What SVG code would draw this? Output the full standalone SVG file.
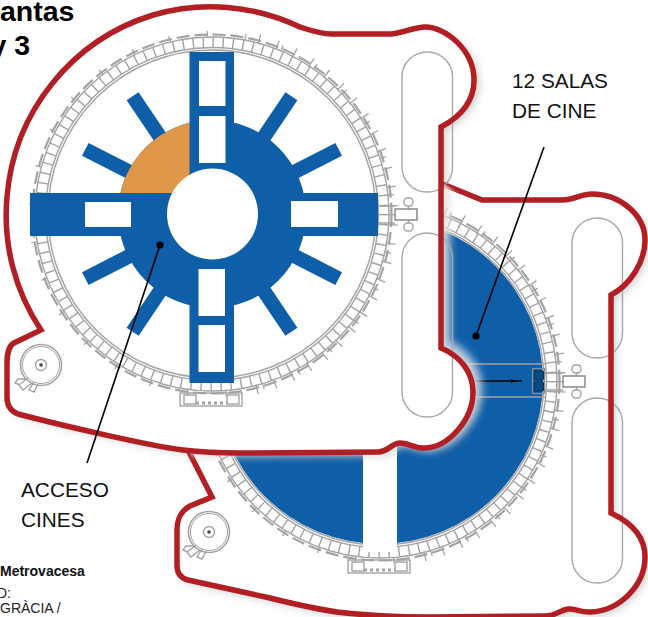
<svg xmlns="http://www.w3.org/2000/svg" width="648" height="617" viewBox="0 0 648 617">
<style>
.red{fill:none;stroke:#b11f24;stroke-width:5.5;stroke-linejoin:miter}
.g{fill:none;stroke:#a3a3a3}
.pill{fill:none;stroke:#a8a8a8;stroke-width:1.4}
.blue{fill:#0e5ea8}
.w{fill:#fff}
.lead{fill:none;stroke:#000;stroke-width:1.6}
.lab{font-family:"Liberation Sans",Arial,sans-serif;font-size:20.8px;fill:#111}
.hd{font-family:"Liberation Sans",Arial,sans-serif;font-size:28.5px;font-weight:700;fill:#000}
.sm{font-family:"Liberation Sans",Arial,sans-serif;font-size:14px;fill:#222}
</style>
<defs>
<path id="b1p" d="M41,330 A206,206 0 0 1 7,197 A208,208 0 0 1 153,15 A207,207 0 0 1 300,27 C312,31 322,34 332,34 L390,34 C402,34 410,28 424,27 C445,26 474,50 474,80 C474,103 458,118 441,127 L441,348 C460,356 473,372 473,392 C473,420 448,448 424,448 C414,448 408,443 400,443 C392,443 388,452 378,452 L240,453 C220,453 200,452 183,450 C150,446 60,425 18,414 C10,411 7,405 7,397 L7,363 C7,352 10,345 14,343 Z"/>
<path id="b2p" d="M445,185 L482,200 L562,200 C575,200 580,194 592,194 C620,194 645,215 645,240 C645,262 630,285 611,295 L611,513 C630,522 645,535 645,557 C645,585 620,611 590,612 C578,612 575,608 568,609 C560,610 556,616 545,616 L430,617 C400,617 370,616 337,612 C310,608 290,603 270,598 L188,580 C180,578 177,572 177,565 L177,530 C177,518 181,511 190,506 L212,497 L188,450 Z"/>
<clipPath id="b2clip"><use href="#b2p"/></clipPath>
<clipPath id="orangeclip"><rect x="100" y="100" width="90" height="93"/></clipPath>
<filter id="soft" x="-20%" y="-20%" width="140%" height="140%"><feGaussianBlur stdDeviation="4"/></filter>
<g id="ringset" stroke-width="1.4">
<circle class="g" r="164"/>
<circle class="g" r="166.5"/>
<circle class="g" r="177"/>
<circle class="g" r="179.5" stroke-width="2.2" stroke-dasharray="13 5"/>
<circle class="g" r="171.5" stroke-width="11" stroke-dasharray="1.4 8.58"/>
<circle class="g" r="180" stroke-width="6" stroke-dasharray="1.3 37"/>
<path class="g" d="M46.8,-174.8 A181,181 0 0 1 31.4,178.3" stroke-width="10" stroke-dasharray="1.3 17.7"/>
<rect class="g" x="-32" y="179" width="62" height="13"/>
<rect class="g" x="-28" y="181" width="12" height="9"/>
<rect class="g" x="15" y="181" width="12" height="9"/>
<path class="g" d="M-16,189 H15" stroke-dasharray="3 3" stroke-width="3"/>
<path class="g" d="M165,-8 H183 M165,9 H183"/>
<rect class="g" x="192" y="-16" width="9" height="8" rx="3.5"/>
<rect class="g" x="192" y="9" width="9" height="8" rx="3.5"/>
<path class="g" d="M196.5,-8 V-5 M196.5,6 V9"/>
<rect x="183" y="-5" width="22" height="11" fill="#fff" stroke="#777" stroke-width="1.3"/>
<circle class="g" cx="-171" cy="151" r="20.5" stroke-width="1.6"/>
<circle class="g" cx="-171" cy="151" r="18.5" stroke-width="1"/>
<circle class="g" cx="-171" cy="151" r="5.5"/>
<circle cx="-171" cy="151" r="1.8" fill="#444"/>
<path class="g" d="M-184,164 L-193,171 L-189,176 L-180,169 M-186,165 L-194,165 L-197,169 L-192,171 M-178,168 L-183,176 L-178,178 L-174,170"/>
</g>
</defs>

<g id="building-2">
<use href="#b2p" transform="translate(4,4)" fill="#777" opacity=".35" filter="url(#soft)"/>
<use href="#b2p" fill="#fff"/>
<circle class="blue" cx="380" cy="381" r="163"/>
<use href="#ringset" transform="translate(380,381)"/>
<rect class="w" x="363" y="440" width="34" height="112"/>
<path class="g" d="M465,364 H545 M465,397 H545" stroke-width="1.3"/>
<rect x="532.500" y="368.500" width="12" height="25" fill="none" stroke="#8c8c8c" stroke-width="1.3"/>
<rect x="534.500" y="371" width="9" height="9" rx="1" fill="#0a4a86" stroke="#0a2f55"/>
<rect x="534.500" y="382" width="9" height="9" rx="1" fill="#0a4a86" stroke="#0a2f55"/>
<path class="lead" d="M470,381 H522"/>
<path d="M511,379 L515,381 L511,383 Z" fill="#000"/>
<rect class="pill" x="572" y="218" width="50.500" height="140" rx="25"/>
<rect class="pill" x="572" y="398" width="50.500" height="185" rx="25"/>
<use href="#b2p" class="red"/>
</g>

<g id="shadow">
<use href="#b1p" transform="translate(5,3)" fill="#8a8178" opacity=".4" filter="url(#soft)"/>
<g clip-path="url(#b2clip)"><use href="#b1p" transform="translate(3,-3)" fill="#f1efed" stroke="#f1efed" stroke-width="12" opacity=".8" filter="url(#soft)"/></g>
</g>

<g id="building-1">
<use href="#b1p" fill="#fff"/>
<use href="#ringset" transform="translate(212,214)"/>
<g id="plan-blue">
<g stroke="#0e5ea8" stroke-width="14.500" fill="none">
<path d="M132.600,96.300 L212,214 M291.400,96.300 L212,214 M85.300,149.400 L212,214 M338.700,149.400 L212,214 M85.300,278.600 L212,214 M338.700,278.600 L212,214 M132.600,331.700 L212,214 M291.400,331.700 L212,214"/>
</g>
<circle class="blue" cx="212" cy="214" r="94"/>
<circle cx="212" cy="214" r="94" fill="#df984a" clip-path="url(#orangeclip)"/>
<rect class="blue" x="30" y="193" width="348" height="43"/>
<rect class="blue" x="189.500" y="52" width="44.500" height="331"/>
<rect class="w" x="199" y="61" width="26.500" height="45"/>
<rect class="w" x="199" y="116" width="26.500" height="47"/>
<rect class="w" x="198.500" y="269" width="26.500" height="47"/>
<rect class="w" x="198.500" y="325" width="26.500" height="47"/>
<rect class="w" x="85" y="202" width="46" height="25"/>
<rect class="w" x="291" y="201" width="47" height="26"/>
<circle class="w" cx="212.500" cy="214" r="45.500"/>
</g>
<rect class="pill" x="402" y="52" width="50.500" height="140" rx="25"/>
<rect class="pill" x="402" y="233" width="50.500" height="184" rx="25"/>
<use href="#b1p" class="red"/>
</g>

<g id="connectors">
<path class="lead" d="M544,147 L476,336"/>
<circle cx="476" cy="336" r="3.600" fill="#000"/>
<path class="lead" d="M160,245 L87,463"/>
<circle cx="160" cy="245" r="3.600" fill="#000"/>
</g>

<g id="labels">
<text class="hd" x="0" y="21">antas</text>
<text class="hd" x="30" y="55" text-anchor="end">y 3</text>
<text class="lab" x="512" y="88">12 SALAS</text>
<text class="lab" x="512" y="118">DE CINE</text>
<text class="lab" x="21" y="497">ACCESO</text>
<text class="lab" x="21" y="527">CINES</text>
<text class="sm" x="0" y="576" style="font-weight:700;fill:#111">Metrovacesa</text>
<text class="sm" x="-3" y="598">D:</text>
<text class="sm" x="0" y="613">GRÀCIA /</text>
</g>
</svg>
